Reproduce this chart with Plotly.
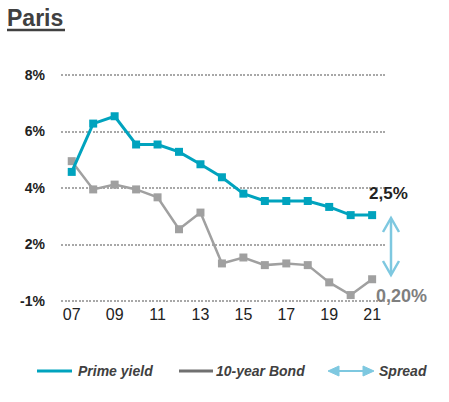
import plotly.graph_objects as go

# data
years = list(range(2007, 2022))
year_ticks = [2007, 2009, 2011, 2013, 2015, 2017, 2019, 2021]
year_labels = ["07", "09", "11", "13", "15", "17", "19", "21"]
prime_yield = [4.57, 6.28, 6.54, 5.54, 5.54, 5.28, 4.84, 4.38, 3.80, 3.54, 3.54, 3.54, 3.33, 3.04, 3.04]
bond_10y = [4.95, 3.95, 4.12, 3.95, 3.67, 2.54, 3.13, 1.33, 1.54, 1.27, 1.33, 1.27, 0.66, 0.21, 0.77]
y_ticks = [0, 2, 4, 6, 8]
y_labels = ["-1%", "2%", "4%", "6%", "8%"]

TEAL = "#00a3be"
GREY = "#a0a0a0"
ARROW = "#7ec8e0"
DARK = "#404040"

# plot area in pixels (for placing the decorations); 2px padding so the
# 8% and bottom gridlines are not dropped at the edges
L, R, T, B = 61, 385, 73, 303
W, H = 449, 402
pad = 2 * 8 / 226


def px(x):
    return (x - L) / (R - L)


def py(y):
    return (B - y) / (B - T)


fig = go.Figure()
fig.add_trace(go.Scatter(
    x=years, y=bond_10y, mode="lines+markers", name="10-year Bond",
    line=dict(color=GREY, width=2.5),
    marker=dict(symbol="square", size=8, color=GREY),
    showlegend=False, cliponaxis=False,
))
fig.add_trace(go.Scatter(
    x=years, y=prime_yield, mode="lines+markers", name="Prime yield",
    line=dict(color=TEAL, width=3),
    marker=dict(symbol="square", size=8, color=TEAL),
    showlegend=False, cliponaxis=False,
))

shapes = []
# title underline
shapes.append(dict(type="line", xref="paper", yref="paper",
                   x0=px(7), x1=px(65), y0=py(30), y1=py(30),
                   line=dict(color=DARK, width=2.5)))

# spread arrow next to the last points
ax, top, bot, hw, hh = 391, 218, 275, 8, 14
shapes.append(dict(type="line", xref="paper", yref="paper",
                   x0=px(ax), x1=px(ax), y0=py(top + 1), y1=py(bot - 1),
                   line=dict(color=ARROW, width=2.5)))
shapes.append(dict(type="path", xref="paper", yref="paper",
                   path=f"M {px(ax - hw)},{py(top + hh)} L {px(ax)},{py(top)} L {px(ax + hw)},{py(top + hh)}",
                   line=dict(color=ARROW, width=2.5)))
shapes.append(dict(type="path", xref="paper", yref="paper",
                   path=f"M {px(ax - hw)},{py(bot - hh)} L {px(ax)},{py(bot)} L {px(ax + hw)},{py(bot - hh)}",
                   line=dict(color=ARROW, width=2.5)))

# legend
ly = 371
shapes.append(dict(type="line", xref="paper", yref="paper",
                   x0=px(37), x1=px(72), y0=py(ly), y1=py(ly),
                   line=dict(color=TEAL, width=3)))
shapes.append(dict(type="line", xref="paper", yref="paper",
                   x0=px(179), x1=px(213), y0=py(ly), y1=py(ly),
                   line=dict(color="#707070", width=3)))
shapes.append(dict(type="line", xref="paper", yref="paper",
                   x0=px(332), x1=px(370), y0=py(ly), y1=py(ly),
                   line=dict(color=ARROW, width=2)))
shapes.append(dict(type="path", xref="paper", yref="paper",
                   path=f"M {px(339)},{py(ly - 5)} L {px(328)},{py(ly)} L {px(339)},{py(ly + 5)} Z",
                   fillcolor=ARROW, line=dict(color=ARROW, width=1)))
shapes.append(dict(type="path", xref="paper", yref="paper",
                   path=f"M {px(363)},{py(ly - 5)} L {px(374)},{py(ly)} L {px(363)},{py(ly + 5)} Z",
                   fillcolor=ARROW, line=dict(color=ARROW, width=1)))

font_bold = dict(family="Liberation Sans", color=DARK)
annotations = [
    dict(text="<b>Paris</b>", x=px(5), y=py(18), xanchor="left", yanchor="middle",
         font=dict(size=23, **font_bold)),
    dict(text="<b>2,5%</b>", x=px(388), y=py(193), xanchor="center", yanchor="middle",
         font=dict(family="Liberation Sans", size=17, color="#222222")),
    dict(text="<b>0,20%</b>", x=px(401), y=py(296), xanchor="center", yanchor="middle",
         font=dict(family="Liberation Sans", size=18, color="#7f7f7f")),
    dict(text="<b><i>Prime yield</i></b>", x=px(76), y=py(ly), xanchor="left", yanchor="middle",
         font=dict(size=14, **font_bold)),
    dict(text="<b><i>10-year Bond</i></b>", x=px(214), y=py(ly), xanchor="left", yanchor="middle",
         font=dict(size=14, **font_bold)),
    dict(text="<b><i>Spread</i></b>", x=px(377), y=py(ly), xanchor="left", yanchor="middle",
         font=dict(size=14, **font_bold)),
]
for a in annotations:
    a.update(xref="paper", yref="paper", showarrow=False)

fig.update_layout(
    width=W, height=H,
    margin=dict(l=L, r=W - R, t=T, b=H - B),
    paper_bgcolor="white", plot_bgcolor="white",
    shapes=shapes, annotations=annotations,
    xaxis=dict(range=[2006.5, 2021.6], tickvals=year_ticks, ticktext=year_labels,
               showgrid=False, zeroline=False, showline=False, ticks="",
               ticklabelstandoff=0,
               tickfont=dict(family="Liberation Sans", size=16, color="#222222")),
    yaxis=dict(range=[-pad, 8 + pad], tickvals=y_ticks, ticktext=y_labels,
               showgrid=True, gridcolor="#a8a8a8", griddash="2px,1.5px", gridwidth=1.5,
               zeroline=False, showline=False, ticks="", ticklabelstandoff=15,
               tickfont=dict(family="Liberation Sans", size=14, color="#222222", weight="bold")),
)

# the page's default body margin would shift the figure by 8px
fig.write_html("out.html", config={"displayModeBar": False},
               post_script="document.body.style.margin='0';")
